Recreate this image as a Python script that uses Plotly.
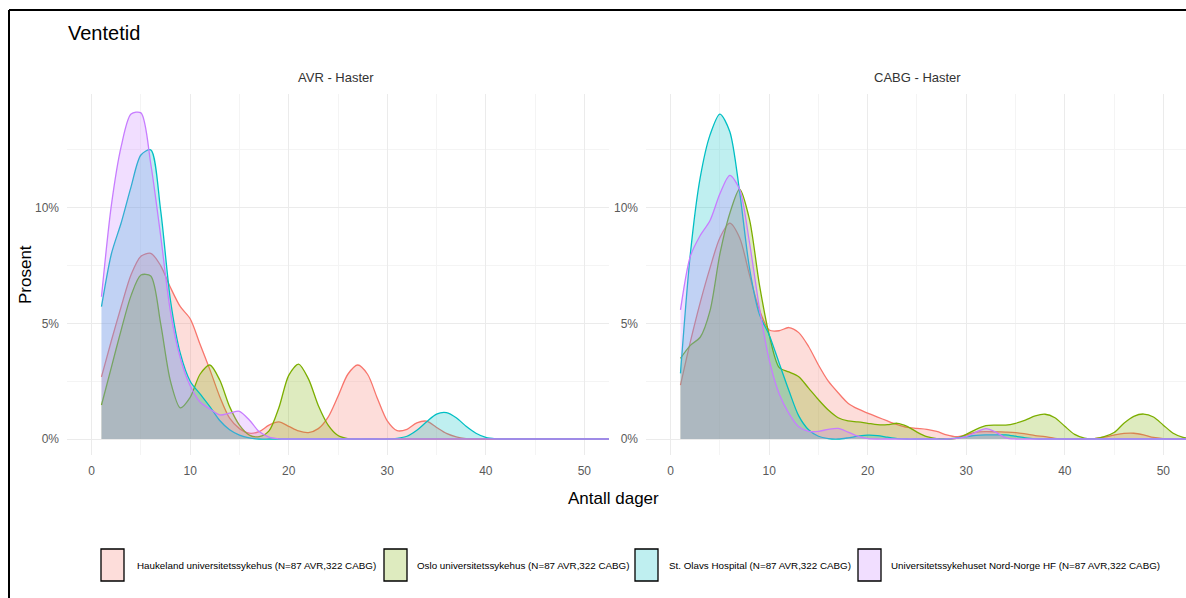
import plotly.graph_objects as go

# ---------------- data ----------------
DAYS = [1, 2, 3, 4, 5, 6, 7, 8, 9, 10, 11, 12, 13, 14, 15, 16, 17, 18, 19, 20,
        21, 22, 23, 24, 25, 26, 27, 28, 29, 30, 31, 32, 33, 34, 35, 36, 37, 38, 39, 40,
        41, 42, 43, 44, 45, 46, 47, 48, 49, 50, 51, 52, 52.5]

HOSPITALS = [
    "Haukeland universitetssykehus (N=87 AVR,322 CABG)",
    "Oslo universitetssykehus (N=87 AVR,322 CABG)",
    "St. Olavs Hospital (N=87 AVR,322 CABG)",
    "Universitetssykehuset Nord-Norge HF (N=87 AVR,322 CABG)",
]
PANELS = ["AVR - Haster", "CABG - Haster"]

# density in percent, AVR
AVR_HAUKELAND = [2.69, 4.25, 5.73, 7.1, 7.9, 8.03, 7.5, 6.55, 5.72, 5.2, 4.1, 3.0, 1.83, 0.9, 0.45, 0.25,
                 0.32, 0.6, 0.74, 0.55, 0.35, 0.28, 0.45, 0.95, 1.85, 2.8, 3.2, 2.8, 1.75, 0.78, 0.36,
                 0.42, 0.7, 0.77, 0.5, 0.24, 0.09, 0.02, 0, 0, 0, 0, 0, 0, 0, 0, 0, 0, 0, 0, 0, 0, 0]
AVR_OSLO = [1.47, 3.1, 4.72, 6.2, 7.09, 7.05, 5.0, 2.5, 1.35, 1.8, 2.8, 3.2, 2.55, 1.4, 0.6, 0.17,
            0.1, 0.35, 1.35, 2.75, 3.24, 2.6, 1.45, 0.6, 0.15, 0.02, 0, 0, 0, 0, 0, 0, 0, 0, 0, 0,
            0, 0, 0, 0, 0, 0, 0, 0, 0, 0, 0, 0, 0, 0, 0, 0, 0]
AVR_STOLAV = [5.72, 8.0, 9.35, 10.9, 12.28, 12.5, 9.9, 6.0, 3.7, 2.5, 1.95, 1.4, 0.8, 0.4, 0.17, 0.05,
              0, 0, 0, 0, 0, 0, 0, 0, 0, 0, 0, 0, 0, 0, 0.03, 0.12, 0.38, 0.75, 1.08, 1.14, 0.92,
              0.55, 0.25, 0.07, 0.01, 0, 0, 0, 0, 0, 0, 0, 0, 0, 0, 0, 0]
AVR_UNN = [6.15, 10.1, 12.65, 14.05, 14.1, 11.9, 8.8, 5.5, 3.5, 2.3, 1.6, 1.3, 1.04, 1.12, 1.2, 0.82,
           0.32, 0.08, 0.01, 0, 0, 0, 0, 0, 0, 0, 0, 0, 0, 0, 0, 0, 0, 0, 0, 0, 0, 0, 0, 0, 0, 0,
           0, 0, 0, 0, 0, 0, 0, 0, 0, 0, 0]

# density in percent, CABG
CABG_HAUKELAND = [2.33, 4.2, 5.9, 7.4, 8.7, 9.33, 8.7, 7.1, 5.6, 4.71, 4.68, 4.82, 4.6, 4.0, 3.2, 2.5,
                  2.0, 1.55, 1.3, 1.12, 0.95, 0.78, 0.62, 0.5, 0.46, 0.42, 0.33, 0.18, 0.1, 0.18, 0.3,
                  0.32, 0.31, 0.3, 0.28, 0.22, 0.15, 0.1, 0.03, 0, 0, 0, 0.02, 0.08, 0.17, 0.24, 0.25,
                  0.18, 0.07, 0.02, 0, 0, 0]
CABG_OSLO = [3.49, 4.05, 4.4, 5.55, 8.0, 9.75, 10.8, 9.5, 6.7, 4.5, 3.1, 2.9, 2.69, 2.2, 1.7, 1.25,
             0.92, 0.78, 0.74, 0.68, 0.62, 0.62, 0.68, 0.55, 0.3, 0.1, 0.02, 0.0, 0.03, 0.2, 0.42,
             0.58, 0.6, 0.6, 0.68, 0.82, 1.0, 1.07, 0.92, 0.55, 0.2, 0.04, 0.02, 0.1, 0.28, 0.68,
             0.98, 1.08, 0.95, 0.6, 0.25, 0.07, 0.03]
CABG_STOLAV = [2.84, 8.0, 11.3, 13.15, 14.05, 13.3, 10.7, 7.4, 5.4, 4.5, 3.3, 2.1, 1.0, 0.4, 0.12, 0.02,
               0.0, 0.05, 0.12, 0.17, 0.15, 0.08, 0.02, 0, 0, 0, 0, 0, 0.04, 0.1, 0.16, 0.18, 0.18,
               0.18, 0.12, 0.05, 0.01, 0, 0, 0, 0, 0, 0, 0, 0, 0, 0, 0, 0, 0, 0, 0, 0]
CABG_UNN = [5.58, 7.9, 8.8, 9.45, 10.6, 11.4, 10.8, 8.5, 5.7, 3.42, 1.97, 1.11, 0.53, 0.33, 0.33, 0.42,
            0.46, 0.3, 0.12, 0.02, 0, 0, 0, 0, 0, 0, 0, 0, 0.03, 0.1, 0.3, 0.45, 0.3, 0.05, 0, 0, 0,
            0, 0, 0, 0, 0, 0, 0, 0, 0, 0, 0, 0, 0, 0, 0, 0]

X_TICKS = [0, 10, 20, 30, 40, 50]
Y_TICKS = [0, 5, 10]
Y_TICK_TEXT = ["0%", "5%", "10%"]

# ---------------- style ----------------
W, H = 1186, 598
LINE_COLORS = ["#F8766D", "#7CAE00", "#00BFC4", "#C77CFF"]
FILL_COLORS = ["rgba(248,118,109,0.25)", "rgba(124,174,0,0.25)",
               "rgba(0,191,196,0.25)", "rgba(199,124,255,0.25)"]
FONT = "Liberation Sans, Arial, sans-serif"


def fx(p):
    return p / W


def fy(p):
    return 1 - p / H


fig = go.Figure()
panel_series = [
    ("x", "y", [AVR_HAUKELAND, AVR_OSLO, AVR_STOLAV, AVR_UNN]),
    ("x2", "y2", [CABG_HAUKELAND, CABG_OSLO, CABG_STOLAV, CABG_UNN]),
]
for xa, ya, series in panel_series:
    for name, lc, fc, vals in zip(HOSPITALS, LINE_COLORS, FILL_COLORS, series):
        fig.add_trace(go.Scatter(
            x=DAYS, y=vals, name=name, mode="lines",
            line=dict(color=lc, width=1.3, shape="spline", smoothing=0.8),
            fill="tozeroy", fillcolor=fc, xaxis=xa, yaxis=ya,
            showlegend=False, hoverinfo="skip"))

tick_font = dict(family=FONT, size=12, color="#5a5a5a")
common_x = dict(range=[-2.5, 52.5], tickvals=X_TICKS, showgrid=True, gridcolor="#EBEBEB",
                gridwidth=1.1, zeroline=False, showline=False, ticks="", tickfont=tick_font,
                automargin=False, ticklabelstandoff=7,
                minor=dict(tickvals=[5, 15, 25, 35, 45], showgrid=True, gridcolor="#F4F4F4", gridwidth=0.8))
common_y = dict(range=[-0.7, 14.9], tickvals=Y_TICKS, ticktext=Y_TICK_TEXT, showgrid=True,
                gridcolor="#EBEBEB", gridwidth=1.1, zeroline=False, showline=False, ticks="",
                tickfont=tick_font, automargin=False, ticklabelstandoff=7,
                minor=dict(tickvals=[2.5, 7.5, 12.5], showgrid=True, gridcolor="#F4F4F4", gridwidth=0.8))

y_dom = [fy(455.2), fy(94.4)]
fig.update_layout(
    width=W, height=H,
    margin=dict(l=0, r=0, t=0, b=0),
    paper_bgcolor="white", plot_bgcolor="white",
    xaxis=dict(domain=[fx(67), fx(609)], anchor="y", **common_x),
    yaxis=dict(domain=y_dom, anchor="x", **common_y),
    xaxis2=dict(domain=[fx(646), 1.0], anchor="y2", **{**common_x, "range": [-2.5, 52.3]}),
    yaxis2=dict(domain=y_dom, anchor="x2", **common_y),
    showlegend=False,
)

annotations = [
    dict(text="Ventetid", x=fx(66), y=fy(33), xanchor="left", yanchor="middle",
         font=dict(family=FONT, size=20, color="black")),
    dict(text=PANELS[0], x=fx(336), y=fy(77), xanchor="center", yanchor="middle",
         font=dict(family=FONT, size=13, color="#333333")),
    dict(text=PANELS[1], x=fx(917), y=fy(77), xanchor="center", yanchor="middle",
         font=dict(family=FONT, size=13, color="#333333")),
    dict(text="Prosent", x=fx(25), y=fy(275), xanchor="center", yanchor="middle", textangle=-90,
         font=dict(family=FONT, size=17, color="black")),
    dict(text="Antall dager", x=fx(613), y=fy(498), xanchor="center", yanchor="middle",
         font=dict(family=FONT, size=17, color="black")),
]

shapes = []
# manual legend
box_x = [(101, 124), (384, 407), (635, 658), (858, 881)]
text_x = [135, 415, 667, 889]
for (x0, x1), tx, name, fc in zip(box_x, text_x, HOSPITALS, FILL_COLORS):
    shapes.append(dict(type="rect", xref="paper", yref="paper", x0=fx(x0), x1=fx(x1),
                       y0=fy(581), y1=fy(549), fillcolor=fc, line=dict(color="black", width=1.3)))
    annotations.append(dict(text=name, x=fx(tx), y=fy(565), xanchor="left", yanchor="middle",
                            font=dict(family=FONT, size=9.8, color="black")))

# frame
shapes.append(dict(type="line", xref="paper", yref="paper", x0=fx(9), x1=fx(9), y0=fy(10), y1=-0.02,
                   line=dict(color="black", width=2)))
shapes.append(dict(type="line", xref="paper", yref="paper", x0=fx(9), x1=1.02, y0=fy(10), y1=fy(10),
                   line=dict(color="black", width=2)))

for a in annotations:
    a.setdefault("xref", "paper")
    a.setdefault("yref", "paper")
    a.setdefault("showarrow", False)

fig.update_layout(annotations=annotations, shapes=shapes)
fig.write_html("out.html")
